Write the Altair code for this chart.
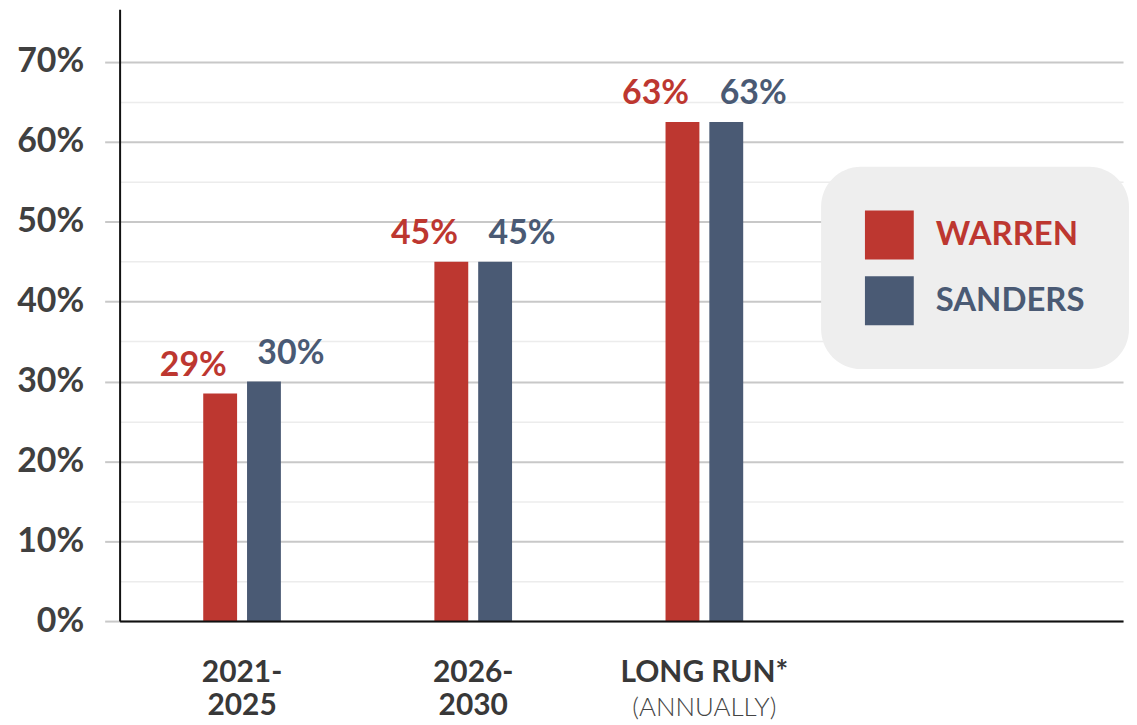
import altair as alt
import pandas as pd

categories = ["2021-2025", "2026-2030", "LONG RUN"]
line1 = ["2021-", "2026-", "LONG RUN*"]
line2 = ["2025", "2030", "(ANNUALLY)"]
series = ["WARREN", "SANDERS"]
warren = [0.285, 0.45, 0.625]
sanders = [0.30, 0.45, 0.625]
warren_labels = ["29%", "45%", "63%"]
sanders_labels = ["30%", "45%", "63%"]
y_ticks = [0, 0.05, 0.10, 0.15, 0.20, 0.25, 0.30, 0.35, 0.40, 0.45,
           0.50, 0.55, 0.60, 0.65, 0.70]

RED = "#bd3730"
BLUE = "#4a5a74"

rows = []
for c, w, s, wl, sl in zip(categories, warren, sanders, warren_labels, sanders_labels):
    rows.append({"cat": c, "series": "WARREN", "value": w, "label": wl})
    rows.append({"cat": c, "series": "SANDERS", "value": s, "label": sl})
df = pd.DataFrame(rows)
cats_df = pd.DataFrame({"cat": categories, "line1": line1, "line2": line2})

# an empty fourth slot keeps the right part of the plot free for the legend
x_scale = alt.Scale(domain=categories + [" "], paddingInner=0.664, paddingOuter=0.5025, align=0.36)
x_enc = alt.X("cat:N", scale=x_scale,
              axis=alt.Axis(labels=False, ticks=False, title=None, grid=False,
                            domainColor="#111111", domainWidth=2, zindex=1))
xo_enc = alt.XOffset("series:N", scale=alt.Scale(domain=series, paddingInner=0.227, paddingOuter=0))
major = "round(datum.value*100) % 10 == 0"
y_enc = alt.Y("value:Q", scale=alt.Scale(domain=[0, 0.766], nice=False),
              axis=alt.Axis(values=y_ticks, title=None,
                            labelExpr="(" + major + ") ? format(datum.value, '.0%') : ''",
                            labelFont="Lato", labelFontSize=34, labelFontWeight="bold",
                            labelColor="#404040", labelPadding=21,
                            tickSize=15,
                            tickColor={"condition": {"test": major, "value": "#c8c8c8"}, "value": "transparent"},
                            tickWidth=2,
                            gridColor={"condition": {"test": major, "value": "#c8c8c8"}, "value": "#ececec"},
                            gridWidth={"condition": {"test": major, "value": 2}, "value": 1.5},
                            domainColor="#111111", domainWidth=2))
color_scale = alt.Scale(domain=series, range=[RED, BLUE])

bars = alt.Chart(df).mark_bar().encode(
    x=x_enc, xOffset=xo_enc, y=y_enc,
    color=alt.Color("series:N", scale=color_scale, sort=series,
                    legend=alt.Legend(title=None, orient="none", legendX=704, legendY=158,
                                      direction="vertical", fillColor="#eeeeee", cornerRadius=40,
                                      padding=44, symbolType="square", symbolSize=2401,
                                      symbolStrokeWidth=0, symbolOpacity=1, rowPadding=17,
                                      labelOffset=22, labelFont="Lato", labelFontSize=33,
                                      labelFontWeight="bold", labelLimit=0,
                                      labelColor={"expr": "datum.value === 'WARREN' ? '" + RED + "' : '" + BLUE + "'"}))
)

def value_labels(name, dx):
    return alt.Chart(df).transform_filter(alt.datum.series == name).mark_text(
        font="Lato", fontSize=34, fontWeight="bold", baseline="alphabetic", dy=-18, dx=dx
    ).encode(
        x=x_enc, xOffset=xo_enc, y=y_enc, text="label:N",
        color=alt.Color("series:N", scale=color_scale, legend=None)
    )

w_text = value_labels("WARREN", -27)
s_text = value_labels("SANDERS", 27)

cat1 = alt.Chart(cats_df).mark_text(
    font="Lato", fontSize=30, fontWeight="bold", color="#383838", baseline="middle"
).encode(x=x_enc, y=alt.value(666), text="line1:N")

cat2 = alt.Chart(cats_df).transform_filter("indexof(datum.line2, '(') !== 0").mark_text(
    font="Lato", fontSize=30, fontWeight="bold", color="#383838", baseline="middle"
).encode(x=x_enc, y=alt.value(699), text="line2:N")

cat3 = alt.Chart(cats_df).transform_filter("indexof(datum.line2, '(') === 0").mark_text(
    font="Lato", fontSize=26, fontWeight=300, color="#444444", baseline="middle"
).encode(x=x_enc, y=alt.value(701), text="line2:N")

chart = alt.layer(bars, w_text, s_text, cat1, cat2, cat3).properties(
    width=1007, height=614,
    padding={"left": 8, "top": 0, "right": 0, "bottom": 0}
).configure_view(stroke=None)

chart.save("out.html", embed_options={"renderer": "svg", "actions": False})
